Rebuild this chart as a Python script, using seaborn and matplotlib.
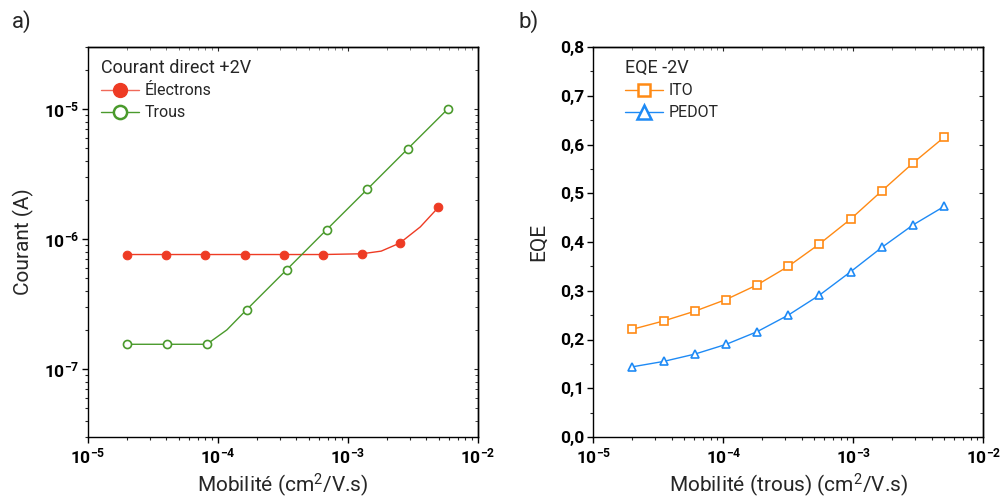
import numpy as np
import pandas as pd
import matplotlib
matplotlib.use("Agg")
import matplotlib.pyplot as plt
from matplotlib.lines import Line2D
from matplotlib.ticker import FixedLocator, FixedFormatter, LogLocator, NullFormatter, MultipleLocator
import seaborn as sns

# ---------------- data ----------------
# Panel a) : current vs mobility
elec_x = [2e-5, 4e-5, 8e-5, 1.6e-4, 3.2e-4, 6.4e-4, 1.28e-3, 1.8e-3, 2.5e-3, 3.6e-3, 4.95e-3]
elec_y = [7.6e-7, 7.6e-7, 7.6e-7, 7.6e-7, 7.6e-7, 7.6e-7, 7.7e-7, 8.07e-7, 9.3e-7, 1.24e-6, 1.75e-6]
elec_marks = [0, 1, 2, 3, 4, 5, 6, 8, 10]

trous_x = [2.0e-5, 4.03e-5, 8.2e-5, 1.17e-4, 1.66e-4, 3.37e-4, 6.85e-4, 1.41e-3, 2.88e-3, 5.85e-3]
trous_y = [1.55e-7, 1.55e-7, 1.55e-7, 2.0e-7, 2.86e-7, 5.8e-7, 1.18e-6, 2.42e-6, 4.94e-6, 1.0e-5]
trous_marks = [0, 1, 2, 4, 5, 6, 7, 8, 9]

# Panel b) : EQE vs hole mobility
eqe_x = [2.0e-5, 3.47e-5, 6.03e-5, 1.05e-4, 1.82e-4, 3.16e-4, 5.49e-4, 9.54e-4, 1.66e-3, 2.88e-3, 5.0e-3]
ito_y = [0.221, 0.238, 0.258, 0.282, 0.312, 0.350, 0.396, 0.447, 0.505, 0.562, 0.615]
pedot_y = [0.144, 0.155, 0.170, 0.190, 0.216, 0.250, 0.291, 0.339, 0.389, 0.435, 0.473]

xtick_vals = [1e-5, 1e-4, 1e-3, 1e-2]
xtick_labels = [r"$\mathbf{10^{-5}}$", r"$\mathbf{10^{-4}}$", r"$\mathbf{10^{-3}}$", r"$\mathbf{10^{-2}}$"]
ytick_a_vals = [1e-7, 1e-6, 1e-5]
ytick_a_labels = [r"$\mathbf{10^{-7}}$", r"$\mathbf{10^{-6}}$", r"$\mathbf{10^{-5}}$"]
ytick_b_vals = [0.0, 0.1, 0.2, 0.3, 0.4, 0.5, 0.6, 0.7, 0.8]
ytick_b_labels = ["0,0", "0,1", "0,2", "0,3", "0,4", "0,5", "0,6", "0,7", "0,8"]

RED = "#EE3B24"
GREEN = "#4A9A2C"
ORANGE = "#FF8A14"
BLUE = "#1E8AF5"

# ---------------- style ----------------
sns.set_style("ticks")
plt.rcParams["font.family"] = ["Roboto", "DejaVu Sans"]
plt.rcParams["mathtext.fontset"] = "custom"
plt.rcParams["mathtext.rm"] = "Roboto"
plt.rcParams["mathtext.it"] = "Roboto:italic"
plt.rcParams["mathtext.bf"] = "Roboto:bold"
plt.rcParams["axes.linewidth"] = 1.0
plt.rcParams["axes.edgecolor"] = "black"

fig = plt.figure(figsize=(10.01, 5.03), dpi=100)
axA = fig.add_axes([88 / 1001, 66 / 503, 390 / 1001, 390 / 503])
axB = fig.add_axes([593.3 / 1001, 66 / 503, 390 / 1001, 390 / 503])

dfe = pd.DataFrame({"x": elec_x, "y": elec_y})
dft = pd.DataFrame({"x": trous_x, "y": trous_y})
sns.lineplot(data=dfe, x="x", y="y", ax=axA, color=RED, lw=1.0, marker="o", markersize=6.2,
             markerfacecolor=RED, markeredgecolor=RED, markevery=elec_marks, legend=False)
sns.lineplot(data=dft, x="x", y="y", ax=axA, color=GREEN, lw=1.0, marker="o", markersize=5.8,
             markerfacecolor="white", markeredgecolor=GREEN, markeredgewidth=1.2,
             markevery=trous_marks, legend=False)

dfb = pd.DataFrame({"x": eqe_x, "ito": ito_y, "pedot": pedot_y})
sns.lineplot(data=dfb, x="x", y="ito", ax=axB, color=ORANGE, lw=1.0, marker="s", markersize=5.2,
             markerfacecolor="white", markeredgecolor=ORANGE, markeredgewidth=1.2, legend=False)
sns.lineplot(data=dfb, x="x", y="pedot", ax=axB, color=BLUE, lw=1.0, marker="^", markersize=6.0,
             markerfacecolor="white", markeredgecolor=BLUE, markeredgewidth=1.2, legend=False)


def style_log_x(ax):
    ax.set_xscale("log")
    ax.set_xlim(1e-5, 1e-2)
    ax.xaxis.set_major_locator(FixedLocator(xtick_vals))
    ax.xaxis.set_major_formatter(FixedFormatter(xtick_labels))
    ax.xaxis.set_minor_locator(LogLocator(base=10, subs=np.arange(2, 10), numticks=20))
    ax.xaxis.set_minor_formatter(NullFormatter())


def style_common(ax):
    for s in ax.spines.values():
        s.set_visible(True)
        s.set_linewidth(1.0)
        s.set_color("black")
    ax.tick_params(which="major", direction="out", length=4.5, width=1.0, labelsize=12.5,
                   colors="black", pad=2)
    ax.tick_params(which="minor", direction="out", length=2.5, width=0.8)
    ax.tick_params(top=False, right=False)
    for lab in ax.get_yticklabels() + ax.get_xticklabels():
        lab.set_fontweight("bold")
    # inward ticks on top / right
    sx = ax.secondary_xaxis("top")
    sx.xaxis.set_major_locator(ax.xaxis.get_major_locator())
    sx.xaxis.set_minor_locator(ax.xaxis.get_minor_locator())
    sx.tick_params(which="major", direction="in", length=3, width=0.8, labeltop=False)
    sx.tick_params(which="minor", direction="in", length=2, width=0.6, colors="#666666")
    sy = ax.secondary_yaxis("right")
    sy.yaxis.set_major_locator(ax.yaxis.get_major_locator())
    sy.yaxis.set_minor_locator(ax.yaxis.get_minor_locator())
    sy.tick_params(which="major", direction="in", length=3, width=0.8, labelright=False)
    sy.tick_params(which="minor", direction="in", length=2, width=0.6)


# Panel a
style_log_x(axA)
axA.set_yscale("log")
axA.set_ylim(3e-8, 3e-5)
axA.yaxis.set_major_locator(FixedLocator(ytick_a_vals))
axA.yaxis.set_major_formatter(FixedFormatter(ytick_a_labels))
axA.yaxis.set_minor_locator(LogLocator(base=10, subs=np.arange(2, 10), numticks=20))
axA.yaxis.set_minor_formatter(NullFormatter())
style_common(axA)
axA.set_xlabel(r"Mobilité (cm$^{2}$/V.s)", fontsize=15, labelpad=4)
axA.set_ylabel("Courant (A)", fontsize=15, labelpad=7)

# Panel b
style_log_x(axB)
axB.set_ylim(0, 0.8)
axB.yaxis.set_major_locator(FixedLocator(ytick_b_vals))
axB.yaxis.set_major_formatter(FixedFormatter(ytick_b_labels))
axB.yaxis.set_minor_locator(MultipleLocator(0.05))
style_common(axB)
axB.set_xlabel(r"Mobilité (trous) (cm$^{2}$/V.s)", fontsize=15, labelpad=4)
axB.set_ylabel("EQE", fontsize=15, labelpad=9)

# Legends
hA = [Line2D([], [], color="#F06A5A", lw=1.0, marker="o", markersize=10,
             markerfacecolor=RED, markeredgecolor=RED),
      Line2D([], [], color=GREEN, lw=1.0, marker="o", markersize=9.5,
             markerfacecolor="white", markeredgecolor=GREEN, markeredgewidth=1.8)]
legA = axA.legend(hA, ["Électrons", "Trous"], title="Courant direct +2V", loc="upper left",
                  bbox_to_anchor=(-0.012, 1.015), frameon=False, alignment="left", fontsize=11.5,
                  title_fontsize=13, handlelength=2.4, handletextpad=0.35, labelspacing=0.42,
                  borderpad=0.6)

hB = [Line2D([], [], color=ORANGE, lw=1.0, marker="s", markersize=8.5,
             markerfacecolor="white", markeredgecolor=ORANGE, markeredgewidth=1.8),
      Line2D([], [], color=BLUE, lw=1.0, marker="^", markersize=10,
             markerfacecolor="white", markeredgecolor=BLUE, markeredgewidth=1.8)]
legB = axB.legend(hB, ["ITO", "PEDOT"], title="EQE -2V", loc="upper left",
                  bbox_to_anchor=(0.035, 1.015), frameon=False, alignment="left", fontsize=11.5,
                  title_fontsize=13, handlelength=2.4, handletextpad=0.35, labelspacing=0.42,
                  borderpad=0.6)

fig.text(12 / 1001, 1 - 22 / 503, "a)", fontsize=16, va="center", ha="left")
fig.text(518 / 1001, 1 - 22 / 503, "b)", fontsize=16, va="center", ha="left")

fig.savefig("out.png", dpi=100)
